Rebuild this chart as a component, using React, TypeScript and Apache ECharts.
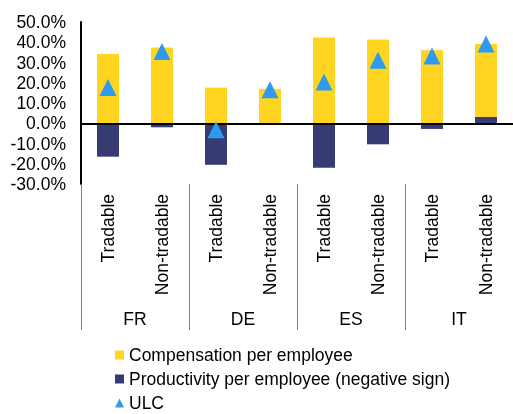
import React, { useEffect, useRef } from "react";
import * as echarts from "echarts";

const sectors = ["Tradable", "Non-tradable", "Tradable", "Non-tradable", "Tradable", "Non-tradable", "Tradable", "Non-tradable"];
const countries = ["FR", "DE", "ES", "IT"];
const compensation = [34.2, 37.4, 17.6, 17.0, 42.4, 41.4, 36.1, 36.0];
const productivity = [-16.5, -2.0, -20.5, -0.5, -22.0, -10.4, -2.8, 3.1];
const ulc = [17.6, 35.4, -3.2, 16.6, 20.4, 31.1, 33.2, 39.1];

const FONT = "'Liberation Sans', Arial, sans-serif";
const FS = 17.5;

export default function App() {
  const ref = useRef<HTMLDivElement>(null);
  useEffect(() => {
    const chart = echarts.init(ref.current!, null, { renderer: "svg" });
    chart.setOption({
      animation: false,
      textStyle: { fontFamily: FONT },
      grid: { left: 81, top: 22, right: 0, bottom: 230, containLabel: false },
      legend: {
        orient: "vertical",
        left: 115,
        top: 346,
        height: 120,
        padding: 0,
        itemWidth: 9,
        itemHeight: 9,
        itemGap: 6,
        textStyle: { fontSize: FS, color: "#000", fontFamily: FONT },
        data: [
          { name: "Compensation per employee", icon: "rect" },
          { name: "Productivity per employee (negative sign)", icon: "rect" },
          { name: "ULC", icon: "triangle" },
        ],
      },
      xAxis: [
        {
          type: "category",
          data: sectors,
          position: "bottom",
          axisLine: { show: false, onZero: false },
          axisTick: { show: false },
          axisLabel: { rotate: 90, fontSize: FS, color: "#000", margin: 10, interval: 0, fontFamily: FONT },
        },
        {
          type: "category",
          data: countries,
          position: "bottom",
          axisLine: { show: false, onZero: false },
          axisTick: { show: true, length: 146, lineStyle: { color: "#7f7f7f", width: 1 } },
          axisLabel: { fontSize: FS, color: "#000", margin: 126, interval: 0, fontFamily: FONT },
        },
      ],
      yAxis: {
        type: "value",
        min: -30,
        max: 50,
        interval: 10,
        axisLine: { show: true, lineStyle: { color: "#000", width: 2 } },
        axisTick: { show: false },
        splitLine: { show: false },
        axisLabel: {
          fontSize: FS,
          color: "#000",
          margin: 15,
          fontFamily: FONT,
          formatter: (v: number) => v.toFixed(1) + "%",
        },
      },
      series: [
        {
          name: "Productivity per employee (negative sign)",
          type: "bar",
          stack: "a",
          barWidth: 22,
          data: productivity,
          itemStyle: { color: "#363B73" },
        },
        {
          name: "Compensation per employee",
          type: "bar",
          stack: "a",
          barWidth: 22,
          data: compensation,
          itemStyle: { color: "#FFD522" },
          markLine: {
            silent: true,
            symbol: "none",
            label: { show: false },
            lineStyle: { color: "#000", width: 2, type: "solid" },
            data: [{ yAxis: 0 }],
          },
        },
        {
          name: "ULC",
          type: "scatter",
          symbol: "triangle",
          symbolSize: 17,
          data: ulc,
          itemStyle: { color: "#2E9BF0", opacity: 1 },
          z: 5,
        },
      ],
    });
    return () => chart.dispose();
  }, []);
  return <div ref={ref} style={{ position: "fixed", left: 0, top: 0, width: 513, height: 414 }} />;
}
